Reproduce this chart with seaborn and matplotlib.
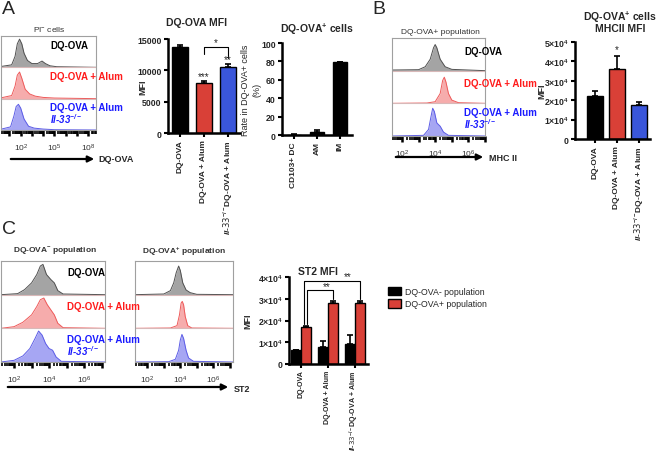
import matplotlib
matplotlib.use("Agg")
import matplotlib.pyplot as plt
from matplotlib.patches import FancyArrowPatch
import numpy as np
import pandas as pd
import seaborn as sns

# ---- bar data ----
mfi_groups = ["DQ-OVA", "DQ-OVA + Alum", r"$\mathit{Il}$-$\mathit{33}^{-/-}$DQ-OVA + Alum"]
mfi_a_vals = [13800, 7900, 10500]
mfi_a_errs = [200, 400, 500]

rate_groups = ["CD103+ DC", "AM", "IM"]
rate_vals = [0.5, 3.8, 79]
rate_errs = [0.3, 2.0, 0.6]

mfi_b_vals = [22000, 36000, 17500]
mfi_b_errs = [3000, 7000, 1500]

st2_pops = ["DQ-OVA- population", "DQ-OVA+ population"]
st2_neg_vals = [6500, 8000, 9000]
st2_neg_errs = [0, 2600, 4500]
st2_pos_vals = [17000, 28000, 28000]
st2_pos_errs = [700, 800, 800]

bar_colors = ["#000000", "#f4281c", "#1f45f5"]

# ---- histogram traces: (log10 intensity, relative height) ----
hist_a_gray = ([0.3, 1.2, 1.5, 1.7, 1.9, 2.1, 2.3, 2.6, 3.0, 3.5, 3.9, 4.2, 4.6, 5.2, 8.7],
               [0.03, 0.08, 0.35, 0.75, 0.9, 0.75, 0.45, 0.22, 0.12, 0.12, 0.2, 0.12, 0.05, 0.02, 0.0])
hist_a_red = ([0.3, 1.2, 1.5, 1.7, 1.9, 2.1, 2.4, 2.8, 3.3, 4.0, 5.0, 8.7],
              [0.03, 0.1, 0.4, 0.75, 0.85, 0.65, 0.3, 0.15, 0.08, 0.04, 0.02, 0.0])
hist_a_blue = ([0.3, 1.1, 1.4, 1.6, 1.8, 2.0, 2.3, 2.7, 3.2, 4.0, 5.0, 8.7],
               [0.03, 0.1, 0.45, 0.75, 0.82, 0.7, 0.35, 0.12, 0.06, 0.03, 0.01, 0.0])

hist_b_gray = ([1.4, 3.0, 3.4, 3.7, 3.9, 4.0, 4.1, 4.3, 4.6, 5.0, 7.0],
               [0.02, 0.03, 0.12, 0.35, 0.7, 0.8, 0.7, 0.35, 0.12, 0.04, 0.0])
hist_b_red = ([1.4, 3.5, 4.0, 4.3, 4.45, 4.55, 4.65, 4.8, 5.0, 5.4, 7.0],
              [0.0, 0.01, 0.05, 0.3, 0.7, 0.8, 0.65, 0.3, 0.1, 0.02, 0.0])
hist_b_blue = ([1.4, 3.3, 3.6, 3.75, 3.85, 3.95, 4.1, 4.3, 4.5, 4.8, 7.0],
               [0.0, 0.02, 0.2, 0.6, 0.85, 0.75, 0.4, 0.3, 0.12, 0.02, 0.0])

hist_cn_gray = ([1.25, 2.2, 2.6, 3.0, 3.3, 3.5, 3.65, 3.85, 4.1, 4.3, 4.5, 4.8, 7.2],
                [0.0, 0.03, 0.15, 0.35, 0.6, 0.85, 0.9, 0.6, 0.45, 0.35, 0.12, 0.02, 0.0])
hist_cn_red = ([1.25, 2.0, 2.5, 3.0, 3.3, 3.5, 3.7, 3.9, 4.1, 4.3, 4.5, 4.8, 7.2],
               [0.0, 0.05, 0.18, 0.4, 0.65, 0.85, 0.9, 0.7, 0.55, 0.4, 0.15, 0.02, 0.0])
hist_cn_blue = ([1.25, 2.0, 2.5, 2.9, 3.2, 3.4, 3.6, 3.8, 4.0, 4.2, 4.4, 4.7, 7.2],
                [0.0, 0.05, 0.18, 0.4, 0.7, 0.92, 0.8, 0.55, 0.4, 0.35, 0.15, 0.02, 0.0])

hist_cp_gray = ([1.25, 3.0, 3.4, 3.6, 3.75, 3.9, 4.0, 4.15, 4.35, 4.6, 5.0, 7.2],
                [0.0, 0.02, 0.12, 0.35, 0.65, 0.85, 0.72, 0.35, 0.14, 0.06, 0.01, 0.0])
hist_cp_red = ([1.25, 3.4, 3.8, 3.95, 4.05, 4.12, 4.2, 4.3, 4.45, 4.7, 7.2],
               [0.0, 0.01, 0.08, 0.4, 0.75, 0.8, 0.7, 0.35, 0.08, 0.01, 0.0])
hist_cp_blue = ([1.25, 3.3, 3.7, 3.9, 4.0, 4.1, 4.2, 4.35, 4.5, 4.8, 7.2],
                [0.0, 0.01, 0.08, 0.35, 0.65, 0.82, 0.7, 0.35, 0.12, 0.02, 0.0])

hist_fill = ["#9a9a9a", "#f5a3a3", "#9d9df2"]
hist_edge = ["#505050", "#ee5a5a", "#5c5ce6"]
txt_colors = ["#000000", "#ff1a1a", "#1a1aff"]

W, H = 660, 456

sns.set_theme(style="ticks")
plt.rcParams["font.family"] = ["Liberation Sans", "DejaVu Sans"]
plt.rcParams["mathtext.default"] = "regular"
plt.rcParams["mathtext.fontset"] = "custom"
plt.rcParams["mathtext.it"] = "Liberation Sans:italic:bold"

fig = plt.figure(figsize=(W / 100, H / 100), dpi=100)


def rect(x0, y0, x1, y1):
    return [x0 / W, 1 - y1 / H, (x1 - x0) / W, (y1 - y0) / H]


def ftext(x, y, s, **kw):
    fig.text(x / W, 1 - y / H, s, **kw)


def arrow(x0, x1, y):
    fig.add_artist(FancyArrowPatch((x0 / W, 1 - y / H), (x1 / W, 1 - y / H),
                                   transform=fig.transFigure, arrowstyle="-|>",
                                   mutation_scale=9, lw=1.6, color="black"))


def hist_box(box, traces, xlim, labelled):
    ax = fig.add_axes(rect(*box))
    for row, (xs, ys) in enumerate(traces):
        base = 2 - row
        top = [base + v for v in ys]
        ax.fill_between(xs, base, top, color=hist_fill[row], alpha=0.9, lw=0)
        ax.plot(xs, top, color=hist_edge[row], lw=0.7)
    for yy in (1, 2):
        ax.axhline(yy, color="#d8b8b8", lw=0.8)
    ax.set_xlim(*xlim)
    ax.set_ylim(0, 3)
    ax.set_yticks([])
    decades = list(range(int(np.floor(xlim[0])), int(np.ceil(xlim[1])) + 1))
    majors = [d for d in decades if xlim[0] <= d <= xlim[1]]
    ax.set_xticks(majors)
    ax.set_xticklabels(["$10^{%d}$" % d if d in labelled else "" for d in majors],
                       fontsize=6, color="#333333")
    minors = [d + np.log10(k) for d in decades for k in range(2, 10)]
    ax.set_xticks([m for m in minors if xlim[0] <= m <= xlim[1]], minor=True)
    ax.tick_params(axis="x", which="major", length=4.5, width=1.8, color="black", pad=4)
    ax.tick_params(axis="x", which="minor", length=3, width=1.2, color="black")
    ax.set_facecolor("white")
    for s in ax.spines.values():
        s.set_color("#a0a0a0")
        s.set_linewidth(0.8)
    return ax


def style_bar_axes(ax, ylim, yticks, yticklabels, xfont=6):
    sns.despine(ax=ax)
    ax.set_ylim(*ylim)
    ax.set_yticks(yticks)
    ax.set_yticklabels(yticklabels, fontsize=6.3, fontweight="bold")
    for s in ("left", "bottom"):
        ax.spines[s].set_linewidth(1.8)
        ax.spines[s].set_color("black")
    ax.tick_params(axis="both", length=3, width=1.5, color="black", pad=1.5)
    ax.set_xlabel("")
    ax.set_facecolor("white")
    plt.setp(ax.get_xticklabels(), rotation=90, fontsize=xfont, fontweight="bold")


def bar_panel(box, cats, vals, errs, xlim, width):
    ax = fig.add_axes(rect(*box))
    df = pd.DataFrame({"group": cats, "value": vals})
    sns.barplot(data=df, x="group", y="value", hue="group",
                palette=dict(zip(cats, bar_colors)), width=width,
                edgecolor="black", linewidth=1.0, errorbar=None, legend=False, ax=ax)
    ax.errorbar(range(len(vals)), vals, yerr=[np.zeros(len(vals)), errs], fmt="none",
                ecolor="black", elinewidth=1.2, capsize=2.5, capthick=1.2)
    ax.set_xlim(*xlim)
    return ax


# ---------------- Panel A ----------------
ftext(2, 1, "A", fontsize=14, va="top")
hist_box((1, 37, 96, 131), [hist_a_gray, hist_a_red, hist_a_blue], (0.25, 8.7), [2, 5, 8])
ftext(49, 34, "PI$^{-}$ cells", fontsize=6, ha="center", va="bottom", color="#333333")
ftext(50, 46, "DQ-OVA", fontsize=7, fontweight="bold", va="center", color=txt_colors[0])
ftext(50, 77, "DQ-OVA + Alum", fontsize=7, fontweight="bold", va="center", color=txt_colors[1])
ftext(50, 108, "DQ-OVA + Alum", fontsize=7, fontweight="bold", va="center", color=txt_colors[2])
ftext(50, 119, "Il-33$^{-/-}$", fontsize=7, fontweight="bold", fontstyle="italic",
      va="center", color=txt_colors[2])
arrow(8, 97, 160)
ftext(98, 160, "DQ-OVA", fontsize=6.5, fontweight="bold", va="center")

ax = bar_panel((168, 40, 240, 134), mfi_groups, mfi_a_vals, mfi_a_errs, (-0.5, 2.5), 0.66)
style_bar_axes(ax, (0, 15000), [0, 5000, 10000, 15000], ["0", "5000", "10000", "15000"])
ax.set_ylabel("MFI", fontsize=6.5, fontweight="bold")
ax.yaxis.set_label_coords((147 - 168) / 72, 0.5)
ax.plot([1, 1, 2, 2], [12600, 13700, 13700, 11900], color="black", lw=0.8, clip_on=False)
ax.text(1.5, 13750, "*", ha="center", va="bottom", fontsize=7)
ax.text(1, 8250, "***", ha="center", va="bottom", fontsize=7)
ax.text(2, 10950, "**", ha="center", va="bottom", fontsize=7)
ftext(196, 23, "DQ-OVA MFI", fontsize=7.5, fontweight="bold", ha="center", va="center")

ax = bar_panel((282, 44, 352, 136), rate_groups, rate_vals, rate_errs, (-0.5, 2.5), 0.6)
for p in ax.patches:
    p.set_facecolor("black")
style_bar_axes(ax, (0, 100), [0, 20, 40, 60, 80, 100], ["0", "20", "40", "60", "80", "100"])
ax.set_ylabel("Rate in DQ-OVA+ cells\n(%)", fontsize=6.5, linespacing=1.3)
ax.yaxis.set_label_coords((261 - 282) / 70, 0.5)
ftext(317, 29, "DQ-OVA$^{+}$ cells", fontsize=7.5, fontweight="bold", ha="center", va="center")

# ---------------- Panel B ----------------
ftext(372, 1, "B", fontsize=14, va="top")
hist_box((392, 39, 485, 137), [hist_b_gray, hist_b_red, hist_b_blue], (1.4, 7.0), [2, 4, 6])
ftext(440, 36, "DQ-OVA+ population", fontsize=6, ha="center", va="bottom", color="#333333")
ftext(464, 52, "DQ-OVA", fontsize=7, fontweight="bold", va="center", color=txt_colors[0])
ftext(464, 84, "DQ-OVA + Alum", fontsize=7, fontweight="bold", va="center", color=txt_colors[1])
ftext(464, 113, "DQ-OVA + Alum", fontsize=7, fontweight="bold", va="center", color=txt_colors[2])
ftext(464, 124, "Il-33$^{-/-}$", fontsize=7, fontweight="bold", fontstyle="italic",
      va="center", color=txt_colors[2])
arrow(393, 486, 158)
ftext(489, 159, "MHC II", fontsize=6.5, fontweight="bold", va="center")

ax = bar_panel((575, 43, 650, 140), mfi_groups, mfi_b_vals, mfi_b_errs, (-0.9, 2.5), 0.72)
style_bar_axes(ax, (0, 50000), [0, 10000, 20000, 30000, 40000, 50000],
               ["0"] + ["%d×10$^{4}$" % k for k in range(1, 6)])
ax.set_ylabel("MFI", fontsize=6.5, fontweight="bold")
ax.yaxis.set_label_coords((546 - 575) / 75, 0.5)
ax.text(1, 43600, "*", ha="center", va="bottom", fontsize=7)
ftext(620, 17, "DQ-OVA$^{+}$ cells", fontsize=7.5, fontweight="bold", ha="center", va="center")
ftext(620, 29, "MHCII MFI", fontsize=7.5, fontweight="bold", ha="center", va="center")

# ---------------- Panel C ----------------
ftext(2, 221, "C", fontsize=14, va="top")
hist_box((1, 262, 105, 363), [hist_cn_gray, hist_cn_red, hist_cn_blue], (1.25, 7.2), [2, 4, 6])
hist_box((135, 262, 233, 363), [hist_cp_gray, hist_cp_red, hist_cp_blue], (1.25, 7.2), [2, 4, 6])
ftext(55, 258, "DQ-OVA$^{-}$ population", fontsize=6, fontweight="bold", ha="center",
      va="bottom", color="#333333")
ftext(184, 258, "DQ-OVA$^{+}$ population", fontsize=6, fontweight="bold", ha="center",
      va="bottom", color="#333333")
ftext(67, 273, "DQ-OVA", fontsize=7, fontweight="bold", va="center", color=txt_colors[0])
ftext(67, 307, "DQ-OVA + Alum", fontsize=7, fontweight="bold", va="center", color=txt_colors[1])
ftext(67, 340, "DQ-OVA + Alum", fontsize=7, fontweight="bold", va="center", color=txt_colors[2])
ftext(67, 351, "Il-33$^{-/-}$", fontsize=7, fontweight="bold", fontstyle="italic",
      va="center", color=txt_colors[2])
arrow(5, 231, 388)
ftext(234, 389, "ST2", fontsize=6.5, fontweight="bold", va="center")

ax = fig.add_axes(rect(289, 278, 368, 365))
st2_df = pd.DataFrame({
    "group": mfi_groups * 2,
    "pop": [st2_pops[0]] * 3 + [st2_pops[1]] * 3,
    "value": st2_neg_vals + st2_pos_vals,
})
sns.barplot(data=st2_df, x="group", y="value", hue="pop",
            palette={st2_pops[0]: "#000000", st2_pops[1]: bar_colors[1]},
            width=0.75, edgecolor="black", linewidth=1.0, errorbar=None, ax=ax)
for cont, errs in zip(ax.containers, [st2_neg_errs, st2_pos_errs]):
    xs = [p.get_x() + p.get_width() / 2 for p in cont]
    hs = [p.get_height() for p in cont]
    ax.errorbar(xs, hs, yerr=[np.zeros(len(hs)), errs], fmt="none", ecolor="black",
                elinewidth=1.2, capsize=2, capthick=1.2)
ax.set_xlim(-0.45, 2.5)
style_bar_axes(ax, (0, 40000), [0, 10000, 20000, 30000, 40000],
               ["0"] + ["%d×10$^{4}$" % k for k in range(1, 5)], xfont=5.1)
ax.tick_params(axis="x", pad=1)
ax.set_ylabel("MFI", fontsize=6.5, fontweight="bold")
ax.yaxis.set_label_coords((252 - 289) / 79, 0.5)
ax.plot([0.22, 0.22, 1.19, 1.19], [18500, 34000, 34000, 29800], color="black", lw=0.8, clip_on=False)
ax.plot([0.12, 0.12, 2.19, 2.19], [18500, 38300, 38300, 29800], color="black", lw=0.8, clip_on=False)
ax.text(0.97, 33600, "**", ha="center", va="bottom", fontsize=7)
ax.text(1.76, 37900, "**", ha="center", va="bottom", fontsize=7)
sns.move_legend(ax, "upper left", bbox_to_anchor=(380 / W, 1 - 280 / H),
                bbox_transform=fig.transFigure, frameon=False, title=None,
                fontsize=6.3, handlelength=1.5, handleheight=1.1, labelspacing=0.35,
                handletextpad=0.5)
ftext(318, 272, "ST2 MFI", fontsize=7.5, fontweight="bold", ha="center", va="center")

fig.savefig("out.png", dpi=100, facecolor="white")
